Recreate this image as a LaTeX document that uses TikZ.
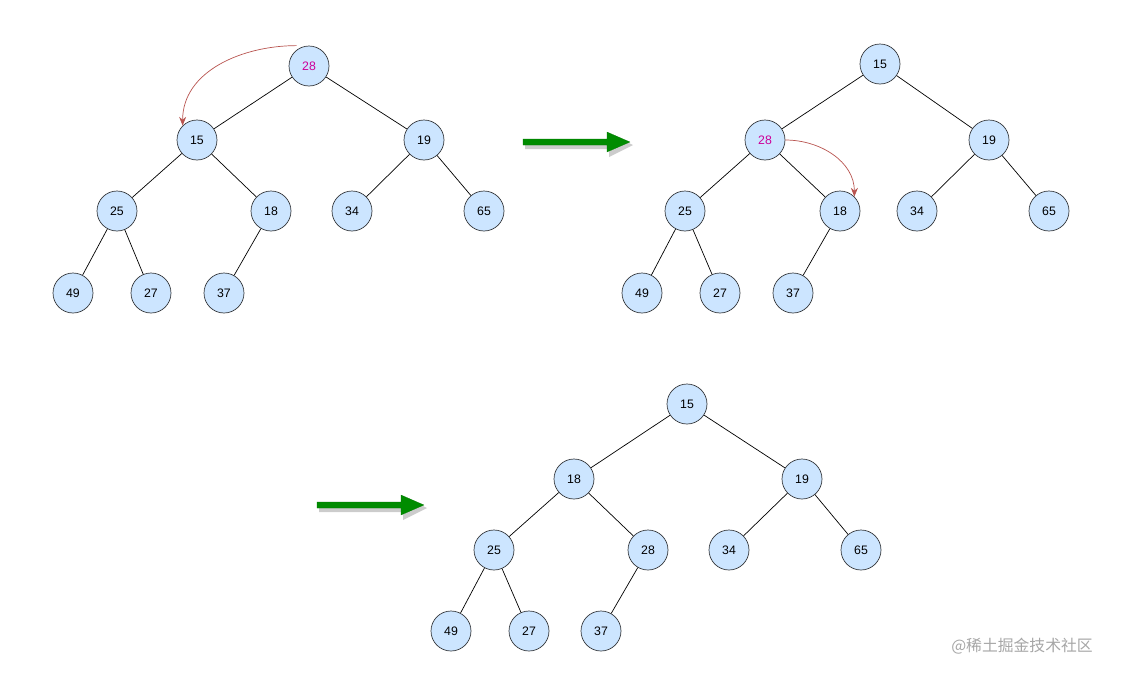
\documentclass[tikz,border=0pt]{standalone}
\usepackage{fontspec}
\setmainfont{Liberation Sans}
\newfontfamily\cjk{Noto Sans CJK SC}
\usetikzlibrary{arrows.meta}
\definecolor{nodefill}{HTML}{CCE5FF}
\definecolor{nodeline}{HTML}{36393D}
\definecolor{swapred}{HTML}{B85450}
\definecolor{keypink}{HTML}{CC0099}
\begin{document}
\begin{tikzpicture}[x=0.02cm,y=-0.02cm,
    key/.style={circle, draw=nodeline, fill=nodefill, minimum size=0.8cm, inner sep=0pt, font=\scriptsize},
    swap/.style={swapred, -{Stealth[length=5pt,width=4pt]}},
    bigarrow/.style={draw=green!45!black, fill=green!55!black, line width=0.1pt}]
    \useasboundingbox (0,0) rectangle (1123,677);

    % Erster Baum
    \node[key, text=keypink] (a1) at (309,66) {28};
    \node[key] (a2) at (197,140) {15};
    \node[key] (a3) at (424,140) {19};
    \node[key] (a4) at (117,211) {25};
    \node[key] (a5) at (271,211) {18};
    \node[key] (a6) at (352,211) {34};
    \node[key] (a7) at (484,211) {65};
    \node[key] (a8) at (73,293) {49};
    \node[key] (a9) at (151,293) {27};
    \node[key] (a10) at (224,293) {37};
    \foreach \p/\c in {a1/a2,a1/a3,a2/a4,a2/a5,a3/a6,a3/a7,a4/a8,a4/a9,a5/a10}
        \draw (\p) -- (\c);
    \draw[swap] (a1.north west) ++(2,-6) to[out=180,in=90] (a2.north west);

    % Zweiter Baum
    \node[key] (b1) at (880,64) {15};
    \node[key, text=keypink] (b2) at (765,140) {28};
    \node[key] (b3) at (989,140) {19};
    \node[key] (b4) at (685,211) {25};
    \node[key] (b5) at (840,211) {18};
    \node[key] (b6) at (917,211) {34};
    \node[key] (b7) at (1049,211) {65};
    \node[key] (b8) at (642,293) {49};
    \node[key] (b9) at (720,293) {27};
    \node[key] (b10) at (793,293) {37};
    \foreach \p/\c in {b1/b2,b1/b3,b2/b4,b2/b5,b3/b6,b3/b7,b4/b8,b4/b9,b5/b10}
        \draw (\p) -- (\c);
    \draw[swap] (b2.east) to[out=0,in=90] (b5.north east);

    % Dritter Baum
    \node[key] (c1) at (687,404) {15};
    \node[key] (c2) at (574,479) {18};
    \node[key] (c3) at (802,479) {19};
    \node[key] (c4) at (494,550) {25};
    \node[key] (c5) at (648,550) {28};
    \node[key] (c6) at (729,550) {34};
    \node[key] (c7) at (861,550) {65};
    \node[key] (c8) at (451,631) {49};
    \node[key] (c9) at (529,631) {27};
    \node[key] (c10) at (601,631) {37};
    \foreach \p/\c in {c1/c2,c1/c3,c2/c4,c2/c5,c3/c6,c3/c7,c4/c8,c4/c9,c5/c10}
        \draw (\p) -- (\c);

    % Pfeile
    \foreach \x/\y in {523/142,317/505} {
        \fill[gray!40] (\x+2,\y-1) -- ++(84,0) -- ++(0,-8) -- ++(24,12) -- ++(-24,12) -- ++(0,-8) -- ++(-84,0) -- cycle;
        \filldraw[bigarrow] (\x,\y-3) -- ++(84,0) -- ++(0,-7) -- ++(23,10) -- ++(-23,10) -- ++(0,-7) -- ++(-84,0) -- cycle;
    }

    \node[text=gray!70, font=\cjk\small] (mark) at (1022,646) {@稀土掘金技术社区};
\end{tikzpicture}
\end{document}
